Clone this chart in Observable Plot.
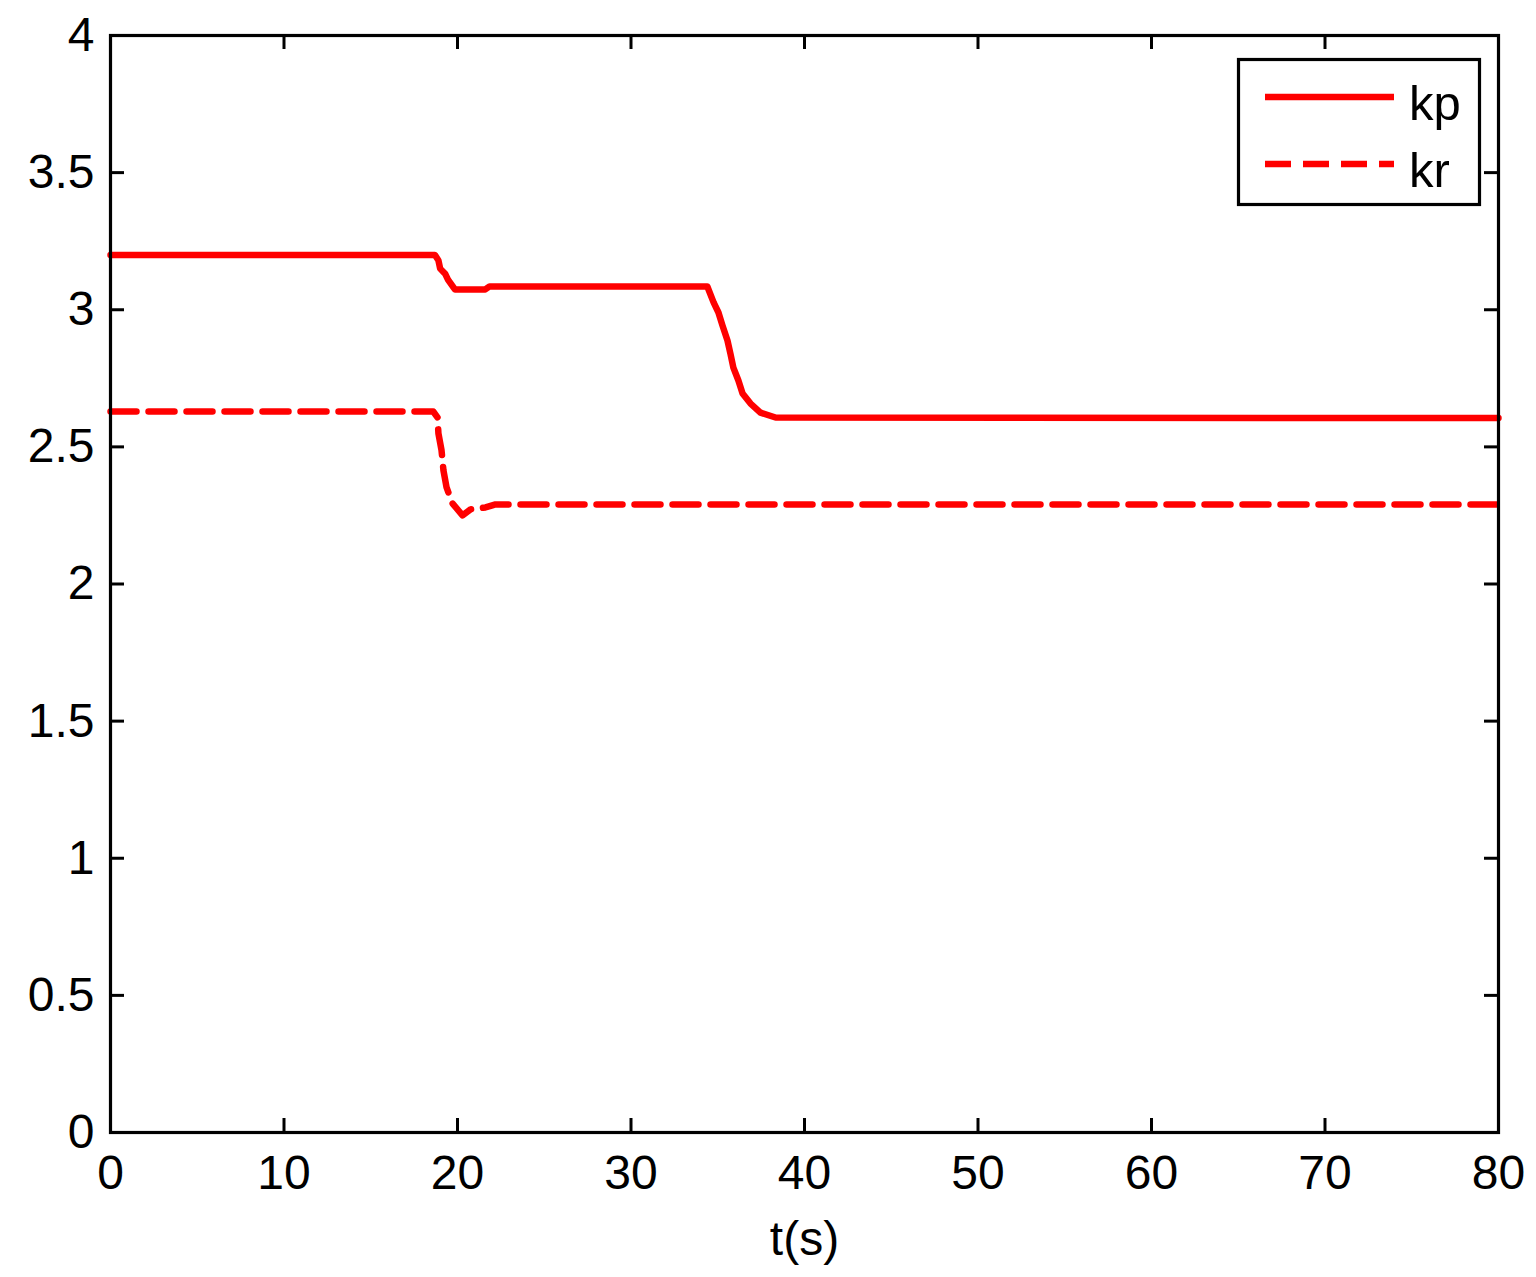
<!DOCTYPE html>
<html>
<head>
<meta charset="utf-8">
<script src="https://cdn.jsdelivr.net/npm/d3@7"></script>
<script src="https://cdn.jsdelivr.net/npm/@observablehq/plot@0.6"></script>
<style>
  html, body { margin: 0; padding: 0; background: #fff; }
  #wrap { position: relative; width: 1536px; height: 1277px; }
  #legend { position: absolute; left: 0; top: 0; pointer-events: none; }
</style>
</head>
<body>
<div id="wrap"></div>
<script>
// ---- data ----
const kpTime  = [0, 18.7, 18.9, 19.0, 19.3, 19.45, 19.85, 21.6, 21.85, 34.4, 34.76, 35.04, 35.27, 35.56, 35.73, 35.9, 36.19, 36.43, 36.89, 37.46, 38.33, 80];
const kpValue = [3.2, 3.2, 3.18, 3.15, 3.13, 3.11, 3.074, 3.074, 3.085, 3.085, 3.027, 2.99, 2.943, 2.888, 2.84, 2.789, 2.742, 2.695, 2.658, 2.625, 2.607, 2.605];

const krTime  = [0, 18.6, 18.85, 18.9, 19.08, 19.19, 19.37, 19.71, 20.29, 20.75, 21.61, 22.19, 80];
const krValue = [2.629, 2.629, 2.607, 2.549, 2.487, 2.414, 2.352, 2.294, 2.25, 2.272, 2.279, 2.29, 2.29];

const xTicks = [0, 10, 20, 30, 40, 50, 60, 70, 80];
const yTicks = [0, 0.5, 1, 1.5, 2, 2.5, 3, 3.5, 4];
const seriesNames = ["kp", "kr"];
const xLabel = "t(s)";

// ---- layout ----
const W = 1536, H = 1277;
const mL = 110, mR = 38, mT = 35, mB = 145;
const frameW = W - mL - mR, frameH = H - mT - mB;
const tick = 14;
const red = "#ff0000";
const font = "'Liberation Sans', Arial, Helvetica, sans-serif";

const kp = kpTime.map((t, i) => ({t, v: kpValue[i]}));
const kr = krTime.map((t, i) => ({t, v: krValue[i]}));

const chart = Plot.plot({
  width: W, height: H,
  marginLeft: mL, marginRight: mR, marginTop: mT, marginBottom: mB,
  style: {fontFamily: font, fontSize: "48px", background: "#fff", color: "#000"},
  x: {domain: [0, 80]},
  y: {domain: [0, 4]},
  marks: [
    Plot.line(kp, {x: "t", y: "v", stroke: red, strokeWidth: 6.5, curve: "linear", strokeLinejoin: "round"}),
    Plot.line(kr, {x: "t", y: "v", stroke: red, strokeWidth: 6.5, strokeDasharray: "26,12", curve: "linear"}),
    Plot.frame({stroke: "#000", strokeWidth: 3.2}),
    Plot.tickX(xTicks, {x: d => d, insetTop: frameH - tick, stroke: "#000", strokeWidth: 3}),
    Plot.tickX(xTicks, {x: d => d, insetBottom: frameH - tick, stroke: "#000", strokeWidth: 3}),
    Plot.tickY(yTicks, {y: d => d, insetRight: frameW - tick, stroke: "#000", strokeWidth: 3}),
    Plot.tickY(yTicks, {y: d => d, insetLeft: frameW - tick, stroke: "#000", strokeWidth: 3}),
    Plot.axisX({ticks: xTicks, tickSize: 0, tickPadding: 22, tickFormat: d => String(d),
      label: xLabel, labelAnchor: "center", labelArrow: "none", labelOffset: 122}),
    Plot.axisY({ticks: yTicks, tickSize: 0, tickPadding: 16, tickFormat: d => String(d), label: null})
  ]
});

const wrap = document.getElementById("wrap");
wrap.appendChild(chart);

// ---- legend overlay ----
const ns = "http://www.w3.org/2000/svg";
const lg = document.createElementNS(ns, "svg");
lg.setAttribute("id", "legend");
lg.setAttribute("width", W);
lg.setAttribute("height", H);
const box = {x: 1238.5, y: 59.5, w: 241, h: 145};
const rect = document.createElementNS(ns, "rect");
rect.setAttribute("x", box.x); rect.setAttribute("y", box.y);
rect.setAttribute("width", box.w); rect.setAttribute("height", box.h);
rect.setAttribute("fill", "#fff"); rect.setAttribute("stroke", "#000"); rect.setAttribute("stroke-width", 3.2);
lg.appendChild(rect);
seriesNames.forEach((name, i) => {
  const y = 97 + i * 67;
  const ln = document.createElementNS(ns, "line");
  ln.setAttribute("x1", 1265); ln.setAttribute("x2", 1394);
  ln.setAttribute("y1", y); ln.setAttribute("y2", y);
  ln.setAttribute("stroke", red); ln.setAttribute("stroke-width", 6.5);
  if (i === 1) ln.setAttribute("stroke-dasharray", "26,12");
  lg.appendChild(ln);
  const tx = document.createElementNS(ns, "text");
  tx.setAttribute("x", 1409); tx.setAttribute("y", y + 23);
  tx.setAttribute("font-family", font);
  tx.setAttribute("font-size", "49px");
  tx.setAttribute("fill", "#000");
  tx.textContent = name;
  lg.appendChild(tx);
});
wrap.appendChild(lg);
</script>
</body>
</html>
